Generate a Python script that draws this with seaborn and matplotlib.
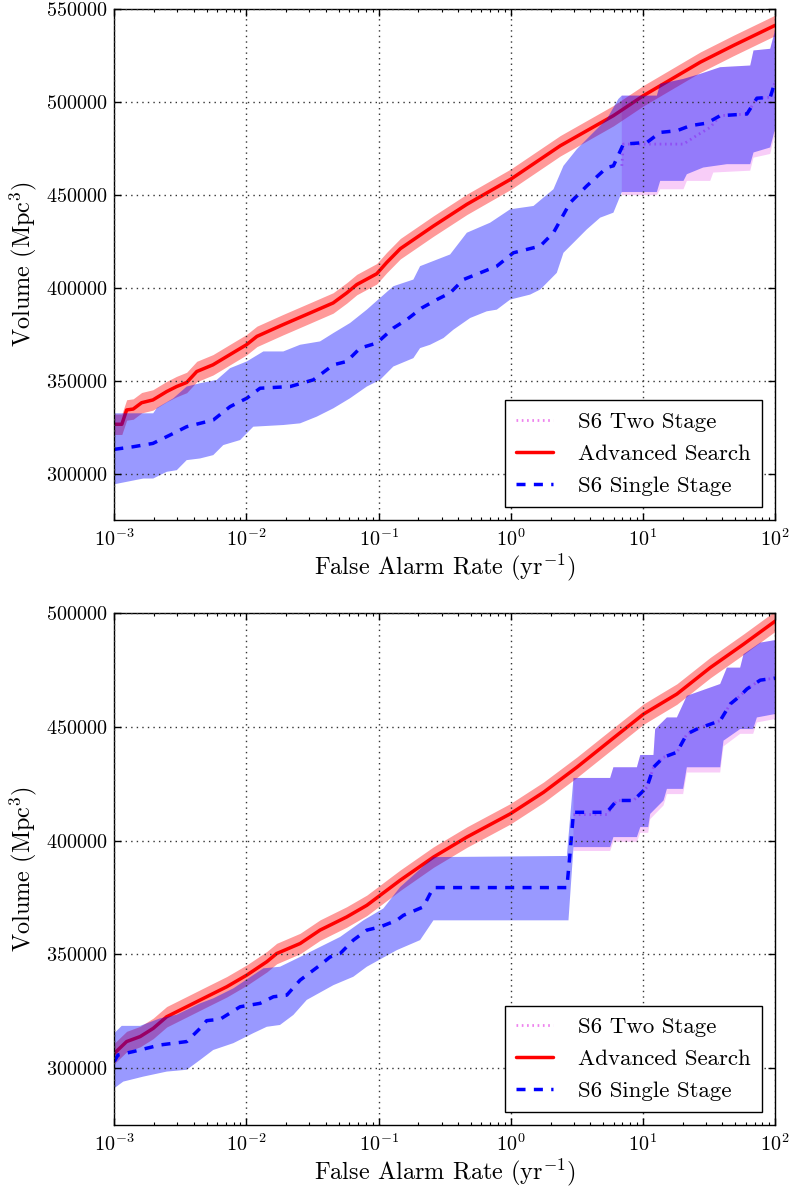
"""
Search sensitivity: volume vs false alarm rate for the two test sets.
Writes out.png.
"""

import numpy as np
import matplotlib
matplotlib.use("Agg")
import matplotlib.pyplot as plt
import seaborn as sns
from matplotlib.ticker import LogLocator, MultipleLocator, ScalarFormatter, NullFormatter

# ── Top panel data ───────────────────────────────────────────────────────────
far_adv_top = [0.001, 0.00114, 0.00124, 0.00139, 0.00161, 0.00196, 0.00249, 0.00296,
               0.00353, 0.00421, 0.00558, 0.00792, 0.0100, 0.0120, 0.0189, 0.0303,
               0.0453, 0.0574, 0.0684, 0.0968, 0.115, 0.146, 0.260, 0.466, 1.0,
               2.37, 5.98, 10.1, 27.2, 48.5, 100]
vol_adv_top = [326500, 326500, 334200, 334700, 338100, 339600, 344100, 346800,
               349000, 354900, 358500, 365000, 369300, 373800, 380100, 386400,
               391800, 397200, 401700, 407500, 413500, 421000, 433200, 444900, 458400,
               476400, 492600, 503400, 521400, 530400, 541200]
adv_err_top = 5500

far_single_top = [0.001, 0.00139, 0.00196, 0.00264, 0.00353, 0.00561, 0.00752, 0.01005,
                  0.01268, 0.02138, 0.03206, 0.0455, 0.05741, 0.07244, 0.09683, 0.1294,
                  0.1633, 0.2122, 0.2759, 0.3478, 0.4385, 0.5866, 0.7846, 1.047, 1.670,
                  2.105, 2.816, 3.765, 5.341, 5.985, 7.121, 10.73, 13.52, 18.09, 22.82,
                  30.49, 38.46, 61.27, 72.9, 91.99, 100]
vol_single_top = [313000, 314400, 316200, 320700, 325200, 328800, 336000, 340500,
                  345900, 346800, 350400, 358500, 360300, 367500, 370200, 378300,
                  382800, 389100, 393600, 397200, 404400, 408000, 411600, 418800, 422400,
                  429600, 445800, 454800, 464700, 465600, 477300, 478200, 483600, 484500, 487200,
                  488600, 492600, 493500, 502000, 502500, 510700]

far_single_hi_top = [0.001, 0.00197, 0.0021, 0.0028, 0.00353, 0.00446, 0.00596, 0.00752,
                     0.01005, 0.01343, 0.01901, 0.02547, 0.03606, 0.0455, 0.06081, 0.08147,
                     0.1026, 0.1294, 0.1834, 0.2061, 0.3478, 0.4655, 0.6982, 0.99, 1.486,
                     2.105, 2.506, 3.165, 4.229, 5.341, 6.527, 6.93, 12.76, 13.52, 20.29,
                     27.18, 38.46, 64.93, 68.75, 91.99, 100]
single_hi_top = [332400, 332400, 335300, 340500, 346800, 348600, 350400, 356700,
                 360300, 365700, 365700, 369300, 371100, 375600, 381000, 388200,
                 394500, 400800, 404400, 411600, 417900, 429600, 435000, 442200, 444000,
                 453000, 465600, 474600, 483600, 490800, 501600, 503400, 503400, 509700, 512400,
                 515100, 518700, 519600, 527700, 528600, 538500]

far_single_lo_top = [0.001, 0.00166, 0.00197, 0.00249, 0.00297, 0.00353, 0.00446, 0.00561,
                     0.00668, 0.00895, 0.01127, 0.01901, 0.02547, 0.03404, 0.0455, 0.06081,
                     0.08147, 0.1026, 0.1294, 0.1834, 0.2061, 0.2455, 0.3097, 0.3683, 0.4932,
                     0.6587, 0.7846, 0.99, 1.402, 1.670, 1.988, 2.231, 2.506, 2.985, 3.765,
                     4.750, 5.985, 6.93, 12.76, 13.52, 20.29, 21.52, 28.63, 43.23, 64.93,
                     68.75, 91.99, 100]
single_lo_top = [294200, 297300, 297300, 300900, 301800, 307200, 308100, 309900,
                 315300, 318000, 325200, 326100, 327000, 330600, 335100, 340500,
                 346800, 350400, 357600, 362100, 367500, 369300, 372900, 377400, 383700,
                 387300, 388200, 393600, 396300, 399000, 404400, 408000, 418800, 424200, 431400,
                 437700, 440400, 451500, 451500, 457500, 457500, 461100, 464700, 466500, 466500,
                 472800, 475500, 485400]

far_two_top = [6.93, 7.121, 20.29, 25.62, 32.34, 38.46, 61.27, 72.9, 91.99, 100]
vol_two_top = [465600, 477300, 477300, 482000, 486300, 492600, 493500, 502000, 502500, 510700]
far_two_hi_top = [6.93, 12.76, 13.52, 20.29, 27.18, 38.46, 64.93, 68.75, 91.99, 100]
two_hi_top = [503400, 503400, 509700, 512400, 515100, 518700, 519600, 527700, 528600, 538500]
far_two_lo_top = [6.93, 12.76, 13.52, 20.29, 21.52, 32.34, 34.09, 64.93, 68.75, 91.99, 100]
two_lo_top = [449800, 449800, 453000, 453000, 457500, 457500, 462000, 463000, 470000, 472000, 483000]

# ── Bottom panel data ────────────────────────────────────────────────────────
far_adv_bot = [0.001, 0.00124, 0.00157, 0.00197, 0.00249, 0.00353, 0.0050, 0.0071,
               0.01005, 0.01426, 0.01694, 0.02547, 0.03606, 0.05741, 0.08147, 0.1455,
               0.26, 0.4655, 0.99, 1.771, 3.165, 5.655, 10.12, 18.09, 32.34, 57.77, 100]
vol_adv_bot = [306500, 311700, 313900, 317500, 322600, 327000, 331400, 335800,
               340900, 346800, 350400, 354800, 360700, 366500, 371600, 382600,
               392800, 401600, 411800, 421300, 432300, 444000, 455700, 464500, 476100, 486400, 496500]
adv_err_bot = 4500

far_single_bot = [0.001, 0.001066, 0.001393, 0.002218, 0.003532, 0.004457, 0.005003, 0.00631,
                  0.008954, 0.01268, 0.016, 0.02018, 0.02547, 0.03606, 0.04295, 0.05117,
                  0.06442, 0.08147, 0.1026, 0.1374, 0.154, 0.218, 0.2455, 0.26, 2.659,
                  2.816, 2.985, 5.341, 6.348, 8.486, 10.73, 12.03, 14.33, 18.09, 21.52,
                  25.62, 38.46, 45.84, 54.48, 61.27, 77.29, 100]
vol_single_bot = [303000, 305800, 307300, 310200, 311700, 317500, 320900, 321500,
                  327000, 328500, 331400, 332100, 338700, 345300, 348900, 350400,
                  356300, 360700, 362100, 365000, 367200, 370900, 376700, 379400, 379400,
                  395000, 412500, 412500, 417700, 417700, 423500, 432300, 436700, 438900, 446900,
                  449100, 452800, 460100, 463700, 466700, 470600, 471500]

far_single_hi_bot = [0.001, 0.001138, 0.001567, 0.002218, 0.002965, 0.004457, 0.00561, 0.007962,
                     0.01343, 0.01795, 0.02547, 0.03606, 0.05117, 0.07674, 0.1086, 0.1455,
                     0.26, 2.659, 2.985, 5.655, 5.985, 9.011, 9.558, 12.03, 12.39, 15.2,
                     18.09, 21.52, 38.46, 43.23, 54.48, 57.77, 77.29, 100]
single_hi_bot = [315400, 318600, 318600, 321900, 323500, 328500, 330700, 335100,
                 343900, 344600, 348900, 353300, 357700, 365000, 370200, 379600,
                 392800, 393300, 427600, 427600, 432300, 432300, 437700, 437700, 449100, 454200,
                 454200, 463700, 468900, 476100, 476100, 482000, 487100, 488200]

far_single_lo_bot = [0.001, 0.00117, 0.00166, 0.002494, 0.003532, 0.004457, 0.00561, 0.007962,
                     0.01127, 0.01426, 0.01795, 0.02265, 0.02858, 0.0455, 0.06442, 0.08147,
                     0.1374, 0.2061, 0.26, 2.735, 2.985, 5.655, 5.985, 9.011, 9.558, 10.97,
                     11.36, 14.33, 15.2, 20.17, 21.52, 38.46, 40.76, 54.48, 68.35, 72.9, 100]
single_lo_bot = [291200, 294100, 296300, 298500, 299300, 303600, 308000, 311000,
                 315400, 318200, 319000, 323400, 330000, 336500, 340200, 344600,
                 351900, 356300, 365000, 365000, 397200, 397200, 401600, 401600, 406000, 406000,
                 411800, 417700, 422800, 422800, 432300, 432300, 444000, 449100, 449100, 454200, 455700]

far_two_bot = [2.985, 5.341, 6.348, 8.486, 10.73, 12.03, 14.33, 18.09, 21.52, 25.62,
               38.46, 45.84, 54.48, 61.27, 77.29, 100]
vol_two_bot = [411500, 411500, 417700, 417700, 423500, 432300, 436700, 438900, 446900, 449100,
               452800, 460100, 463700, 466700, 470600, 471500]
far_two_hi_bot = [2.985, 5.655, 5.985, 9.011, 9.558, 12.03, 12.39, 15.2, 18.09, 21.52,
                  38.46, 43.23, 54.48, 57.77, 77.29, 100]
two_hi_bot = [427600, 427600, 432300, 432300, 437700, 437700, 449100, 454200, 454200, 463700,
              468900, 476100, 476100, 482000, 487100, 488200]
far_two_lo_bot = [2.985, 5.655, 5.985, 9.011, 9.558, 10.97, 11.36, 14.33, 15.2, 20.17,
                  21.52, 38.46, 40.76, 54.48, 68.35, 72.9, 100]
two_lo_bot = [395500, 395500, 399500, 399500, 403500, 403500, 409500, 415500, 420500, 420500,
              430000, 430000, 441500, 447000, 447000, 452000, 453500]

labels = ["S6 Two Stage", "Advanced Search", "S6 Single Stage"]
ylims = [(275000, 550000), (275000, 500000)]

# ── Style ────────────────────────────────────────────────────────────────────
sns.set_theme(style="white")
plt.rcParams.update({
    "font.family": ["cmr10", "DejaVu Serif"],
    "mathtext.fontset": "cm",
    "axes.formatter.use_mathtext": True,
    "lines.scale_dashes": False,
    "axes.edgecolor": "black",
    "axes.linewidth": 1.0,
    "text.color": "black",
    "axes.labelcolor": "black",
    "xtick.color": "black",
    "ytick.color": "black",
    "xtick.direction": "in",
    "ytick.direction": "in",
    "xtick.top": True,
    "ytick.right": True,
    "xtick.bottom": True,
    "ytick.left": True,
    "xtick.major.size": 5,
    "ytick.major.size": 5,
    "xtick.minor.size": 2.5,
    "xtick.major.width": 1,
    "ytick.major.width": 1,
    "xtick.minor.width": 0.8,
    "xtick.major.pad": 6,
    "ytick.major.pad": 5,
})


def band(ax, far_hi, hi, far_lo, lo, color, z):
    xs = np.concatenate([far_hi, far_lo[::-1]])
    ys = np.concatenate([hi, lo[::-1]])
    ax.fill(xs, ys, color=color, alpha=0.4, lw=0, zorder=z)


def draw_panel(ax, d, ylim):
    # two stage (drawn first, sits under everything)
    band(ax, d["two_hi_far"], d["two_hi"], d["two_lo_far"], d["two_lo"], "violet", 1.0)
    sns.lineplot(x=d["two_far"], y=d["two_vol"], ax=ax, color="violet", lw=2,
                 linestyle=(0, (1.2, 2.6)), sort=False, estimator=None, zorder=1.1)
    # advanced search
    far_adv = np.array(d["adv_far"])
    vol_adv = np.array(d["adv_vol"])
    ax.fill_between(far_adv, vol_adv - d["adv_err"], vol_adv + d["adv_err"],
                    color="red", alpha=0.4, lw=0, zorder=1.2)
    sns.lineplot(x=far_adv, y=vol_adv, ax=ax, color="red", lw=2.5,
                 sort=False, estimator=None, zorder=1.3)
    # single stage
    band(ax, d["one_hi_far"], d["one_hi"], d["one_lo_far"], d["one_lo"], "blue", 1.4)
    sns.lineplot(x=d["one_far"], y=d["one_vol"], ax=ax, color="blue", lw=2.5,
                 linestyle=(0, (6.5, 6)), sort=False, estimator=None, zorder=1.5)

    ax.set_xscale("log")
    ax.set_xlim(1e-3, 1e2)
    ax.set_ylim(*ylim)
    ax.yaxis.set_major_locator(MultipleLocator(50000))
    fmt = ScalarFormatter(useMathText=True)
    fmt.set_useOffset(False)
    fmt.set_scientific(False)
    ax.yaxis.set_major_formatter(fmt)
    ax.xaxis.set_major_locator(LogLocator(base=10, numticks=10))
    ax.xaxis.set_minor_locator(LogLocator(base=10, subs=np.arange(2, 10), numticks=20))
    ax.xaxis.set_minor_formatter(NullFormatter())
    ax.tick_params(labelsize=14.5)
    ax.grid(True, which="major", color="0.2", linestyle=(0, (1, 3)), linewidth=1)
    ax.set_axisbelow(False)
    ax.set_xlabel(r"False Alarm Rate (yr$^{-1}$)", fontsize=17.5, labelpad=1)
    ax.set_ylabel(r"Volume (Mpc$^3$)", fontsize=17.5, labelpad=5)

    lines = ax.get_lines()
    ax.legend(handles=[lines[0], lines[1], lines[2]], labels=labels, loc="lower right",
              fontsize=16.5, frameon=True, fancybox=False, framealpha=1,
              edgecolor="black", borderaxespad=0.55, handlelength=1.6,
              labelspacing=0.52, borderpad=0.5, handletextpad=1.1).get_frame().set_linewidth(1.0)


top = dict(adv_far=far_adv_top, adv_vol=vol_adv_top, adv_err=adv_err_top,
           one_far=far_single_top, one_vol=vol_single_top,
           one_hi_far=far_single_hi_top, one_hi=single_hi_top,
           one_lo_far=far_single_lo_top, one_lo=single_lo_top,
           two_far=far_two_top, two_vol=vol_two_top,
           two_hi_far=far_two_hi_top, two_hi=two_hi_top,
           two_lo_far=far_two_lo_top, two_lo=two_lo_top)
bot = dict(adv_far=far_adv_bot, adv_vol=vol_adv_bot, adv_err=adv_err_bot,
           one_far=far_single_bot, one_vol=vol_single_bot,
           one_hi_far=far_single_hi_bot, one_hi=single_hi_bot,
           one_lo_far=far_single_lo_bot, one_lo=single_lo_bot,
           two_far=far_two_bot, two_vol=vol_two_bot,
           two_hi_far=far_two_hi_bot, two_hi=two_hi_bot,
           two_lo_far=far_two_lo_bot, two_lo=two_lo_bot)

fig = plt.figure(figsize=(7.91, 11.89), dpi=100)
ax1 = fig.add_axes([0.1445, 0.5627, 0.8353, 0.4297])
ax2 = fig.add_axes([0.1445, 0.0538, 0.8353, 0.4304])
draw_panel(ax1, top, ylims[0])
draw_panel(ax2, bot, ylims[1])

fig.savefig("out.png", dpi=100, facecolor="white")
